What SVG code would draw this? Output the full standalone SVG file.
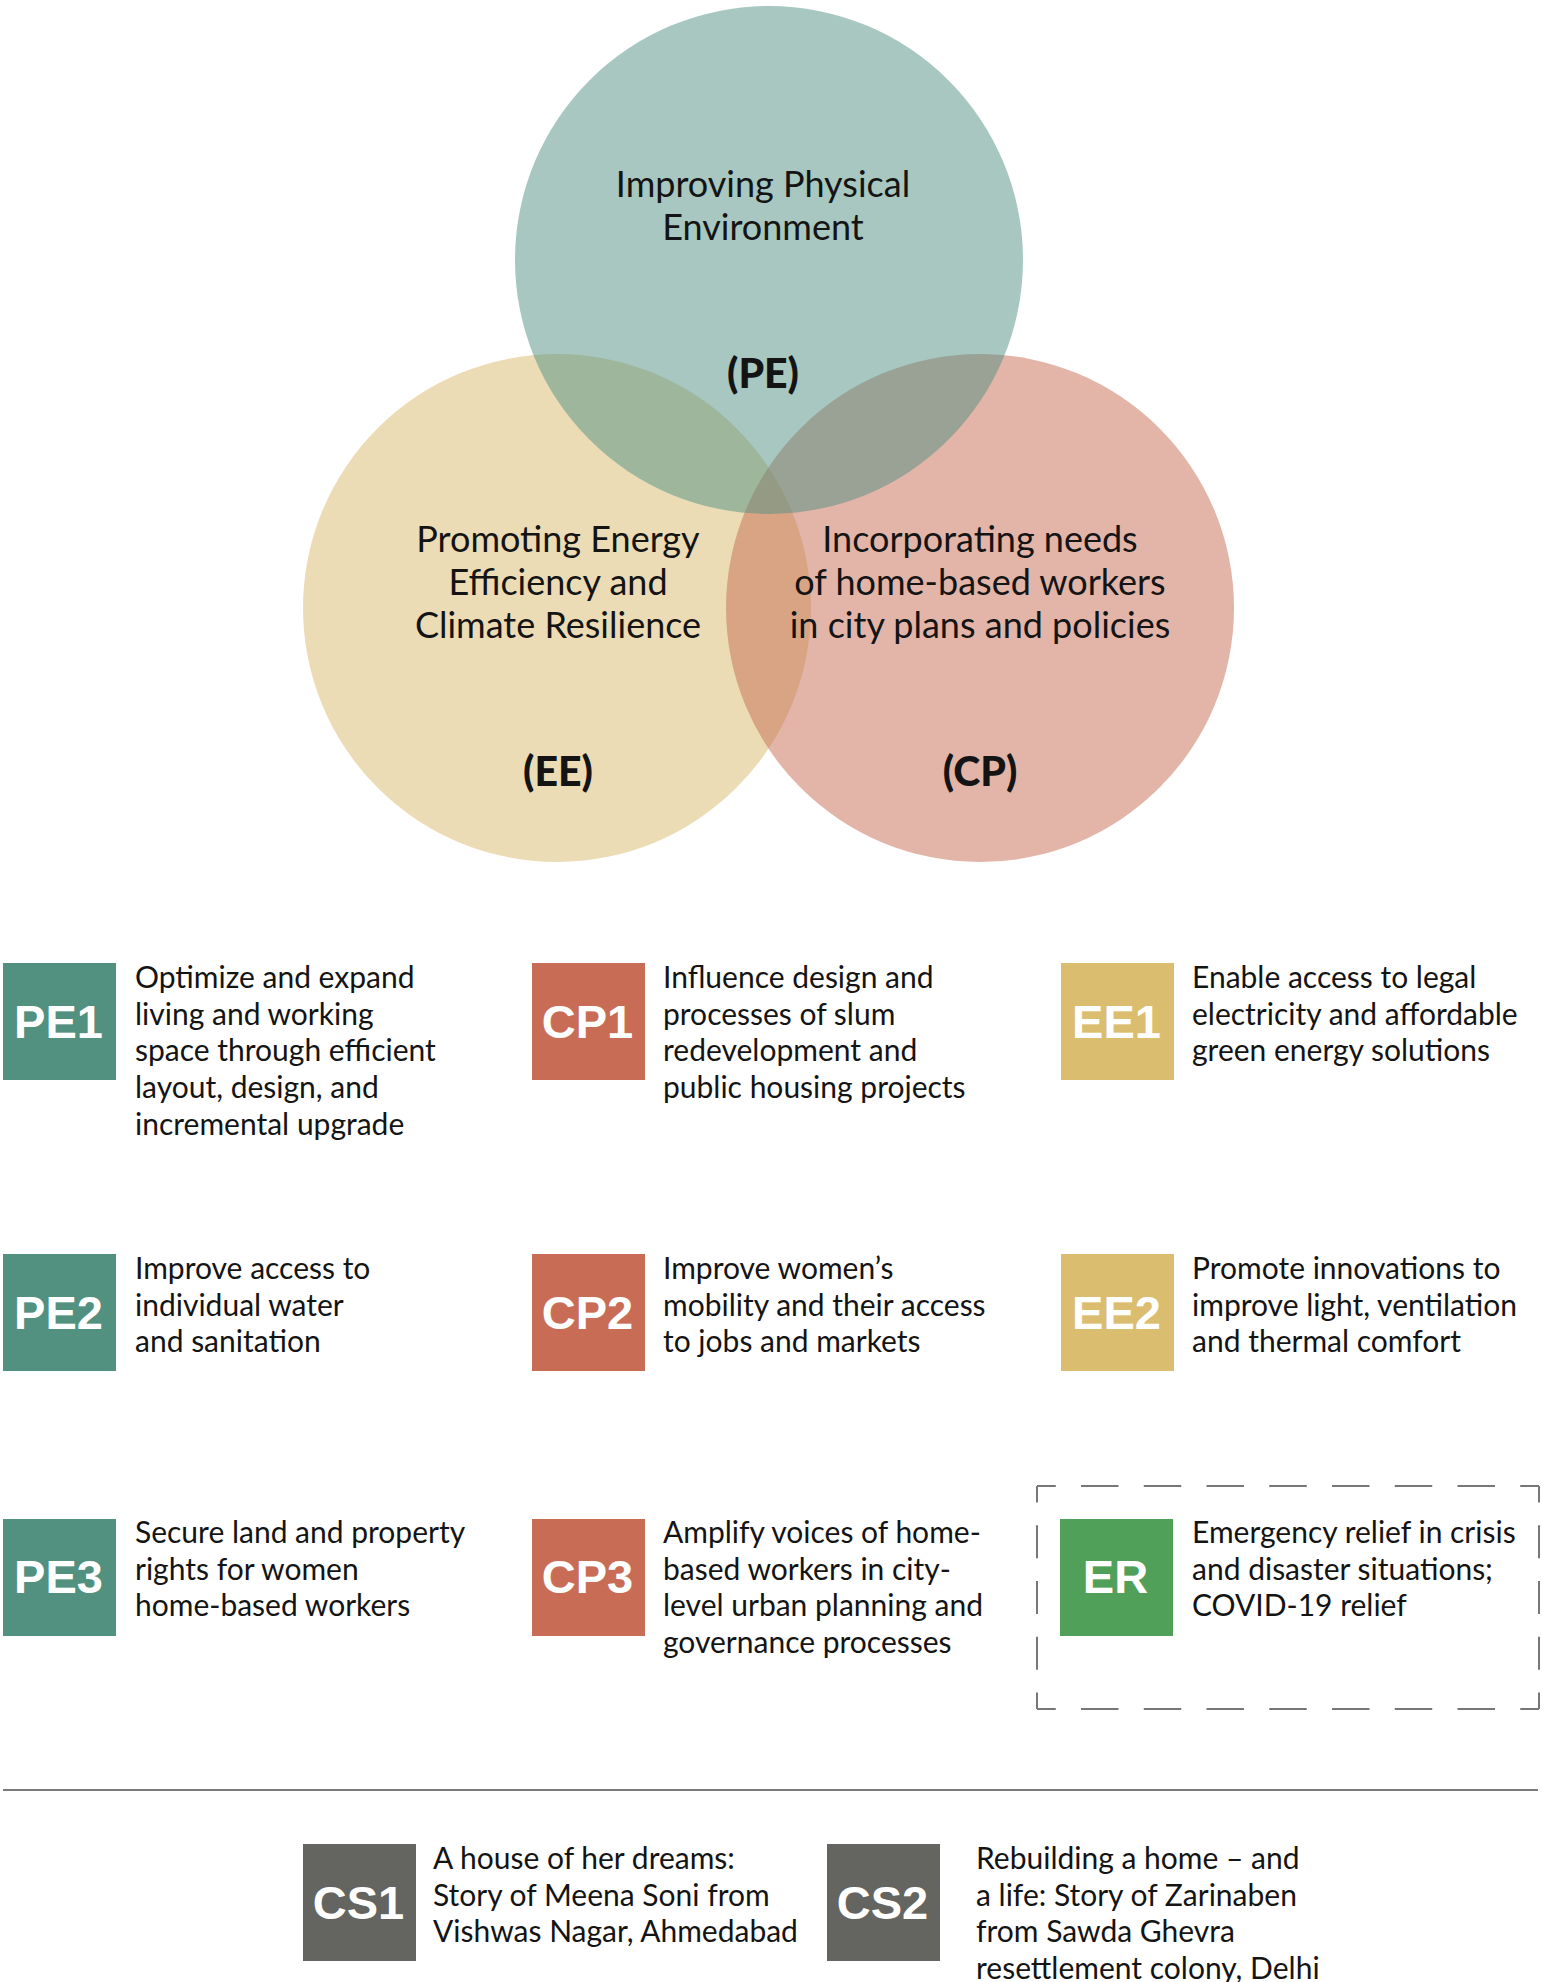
<svg xmlns="http://www.w3.org/2000/svg" width="1542" height="1982" viewBox="0 0 1542 1982">
<style>
.t{font-family:Lato,"Noto Sans","Liberation Sans",sans-serif;font-size:30px;fill:#141414}
.c{font-family:Lato,"Noto Sans","Liberation Sans",sans-serif;font-size:36px;fill:#141414;text-anchor:middle}
.cb{font-family:Lato,"Noto Sans","Liberation Sans",sans-serif;font-size:41px;font-weight:900;fill:#141414;text-anchor:middle}
.lab{font-family:"Liberation Sans",Arial,sans-serif;font-size:47px;font-weight:700;fill:#fff;text-anchor:middle}
.pe{fill:#52907f}.cp{fill:#c96c55}.ee{fill:#dbbd70}.er{fill:#50a05a}.cs{fill:#646460}
.dh{stroke:#777;stroke-width:2;stroke-dasharray:37.5 25.25;stroke-dashoffset:18.75;fill:none}
.dv{stroke:#777;stroke-width:2;stroke-dasharray:33 22.75;stroke-dashoffset:16.5;fill:none}
</style>
<rect width="1542" height="1982" fill="#fff"/>
<g id="venn-EE">
<circle cx="557" cy="608" r="254" fill="#d9b96d" fill-opacity="0.5"/>
</g>
<g id="venn-CP">
<circle cx="980" cy="608" r="254" fill="#c56b51" fill-opacity="0.5"/>
</g>
<g id="venn-PE">
<circle cx="769" cy="260" r="254" fill="#4f8f81" fill-opacity="0.5"/>
</g>
<g id="venn-labels">
<text class="c" x="763" y="197">Improving Physical</text>
<text class="c" x="763" y="240">Environment</text>
<text class="cb" x="763" y="388">(PE)</text>
<text class="c" x="558" y="552">Promoting Energy</text>
<text class="c" x="558" y="595">Efficiency and</text>
<text class="c" x="558" y="638">Climate Resilience</text>
<text class="cb" x="558" y="786">(EE)</text>
<text class="c" x="980" y="552">Incorporating needs</text>
<text class="c" x="980" y="595">of home-based workers</text>
<text class="c" x="980" y="638">in city plans and policies</text>
<text class="cb" x="980" y="786">(CP)</text>
</g>

<g id="PE1">
<rect class="pe" x="3" y="963" width="113" height="117"/>
<text class="lab" x="58.5" y="1038">PE1</text>
<text class="t" x="135" y="988">Optimize and expand</text>
<text class="t" x="135" y="1024.7">living and working</text>
<text class="t" x="135" y="1061.4">space through efficient</text>
<text class="t" x="135" y="1098.1">layout, design, and</text>
<text class="t" x="135" y="1134.8">incremental upgrade</text>
</g>
<g id="CP1">
<rect class="cp" x="532" y="963" width="113" height="117"/>
<text class="lab" x="587.5" y="1038">CP1</text>
<text class="t" x="663" y="988">Influence design and</text>
<text class="t" x="663" y="1024.7">processes of slum</text>
<text class="t" x="663" y="1061.4">redevelopment and</text>
<text class="t" x="663" y="1098.1">public housing projects</text>
</g>
<g id="EE1">
<rect class="ee" x="1061" y="963" width="113" height="117"/>
<text class="lab" x="1116.5" y="1038">EE1</text>
<text class="t" x="1192" y="988">Enable access to legal</text>
<text class="t" x="1192" y="1024.7">electricity and affordable</text>
<text class="t" x="1192" y="1061.4">green energy solutions</text>
</g>

<g id="PE2">
<rect class="pe" x="3" y="1254" width="113" height="117"/>
<text class="lab" x="58.5" y="1329">PE2</text>
<text class="t" x="135" y="1279">Improve access to</text>
<text class="t" x="135" y="1315.7">individual water</text>
<text class="t" x="135" y="1352.4">and sanitation</text>
</g>
<g id="CP2">
<rect class="cp" x="532" y="1254" width="113" height="117"/>
<text class="lab" x="587.5" y="1329">CP2</text>
<text class="t" x="663" y="1279">Improve women’s</text>
<text class="t" x="663" y="1315.7">mobility and their access</text>
<text class="t" x="663" y="1352.4">to jobs and markets</text>
</g>
<g id="EE2">
<rect class="ee" x="1061" y="1254" width="113" height="117"/>
<text class="lab" x="1116.5" y="1329">EE2</text>
<text class="t" x="1192" y="1279">Promote innovations to</text>
<text class="t" x="1192" y="1315.7">improve light, ventilation</text>
<text class="t" x="1192" y="1352.4">and thermal comfort</text>
</g>

<g id="PE3">
<rect class="pe" x="3" y="1519" width="113" height="117"/>
<text class="lab" x="58.5" y="1593">PE3</text>
<text class="t" x="135" y="1543">Secure land and property</text>
<text class="t" x="135" y="1579.7">rights for women</text>
<text class="t" x="135" y="1616.4">home-based workers</text>
</g>
<g id="CP3">
<rect class="cp" x="532" y="1519" width="113" height="117"/>
<text class="lab" x="587.5" y="1593">CP3</text>
<text class="t" x="663" y="1543">Amplify voices of home-</text>
<text class="t" x="663" y="1579.7">based workers in city-</text>
<text class="t" x="663" y="1616.4">level urban planning and</text>
<text class="t" x="663" y="1653.1">governance processes</text>
</g>
<g id="ER">
<line class="dh" x1="1037" y1="1486" x2="1539" y2="1486"/>
<line class="dh" x1="1037" y1="1709" x2="1539" y2="1709"/>
<line class="dv" x1="1037" y1="1486" x2="1037" y2="1709"/>
<line class="dv" x1="1539" y1="1486" x2="1539" y2="1709"/>
<rect class="er" x="1060" y="1519" width="113" height="117"/>
<text class="lab" x="1115.5" y="1593">ER</text>
<text class="t" x="1192" y="1543">Emergency relief in crisis</text>
<text class="t" x="1192" y="1579.7">and disaster situations;</text>
<text class="t" x="1192" y="1616.4">COVID-19 relief</text>
</g>

<g id="separator">
<line x1="3" y1="1790" x2="1538" y2="1790" stroke="#7a7a7a" stroke-width="2"/>
</g>

<g id="CS1">
<rect class="cs" x="303" y="1844" width="113" height="117"/>
<text class="lab" x="358.5" y="1919">CS1</text>
<text class="t" x="433" y="1869">A house of her dreams:</text>
<text class="t" x="433" y="1905.7">Story of Meena Soni from</text>
<text class="t" x="433" y="1942.4">Vishwas Nagar, Ahmedabad</text>
</g>
<g id="CS2">
<rect class="cs" x="827" y="1844" width="113" height="117"/>
<text class="lab" x="882.5" y="1919">CS2</text>
<text class="t" x="976" y="1869">Rebuilding a home – and</text>
<text class="t" x="976" y="1905.7">a life: Story of Zarinaben</text>
<text class="t" x="976" y="1942.4">from Sawda Ghevra</text>
<text class="t" x="976" y="1979.1">resettlement colony, Delhi</text>
</g>
<g id="connectors"></g>
</svg>
